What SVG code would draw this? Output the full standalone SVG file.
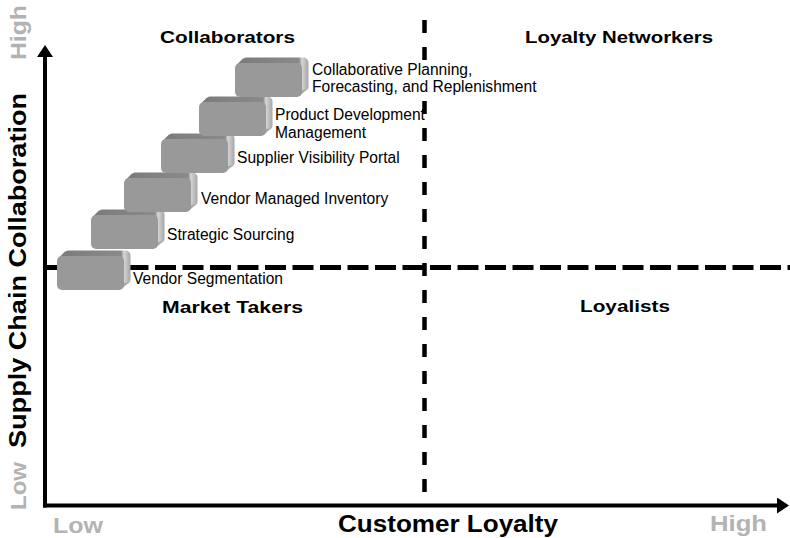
<svg xmlns="http://www.w3.org/2000/svg" width="790" height="538" viewBox="0 0 790 538">
<style>
  .lbl{font-family:"Liberation Sans",Arial,sans-serif;font-size:15.6px;fill:#000}
  .ttl{font-family:"Liberation Sans",Arial,sans-serif;font-weight:bold;font-size:16.3px;fill:#000}
  .ax{font-family:"Liberation Sans",Arial,sans-serif;font-weight:bold;font-size:23px;fill:#000}
  .gry{font-family:"Liberation Sans",Arial,sans-serif;font-weight:bold;font-size:22px;fill:#b3b3b3}
  .axis{stroke:#000;stroke-width:4;fill:none}
  .div-h{stroke:#000;stroke-width:5;stroke-dasharray:21 6.5;fill:none}
  .div-v{stroke:#000;stroke-width:4.5;stroke-dasharray:13 14;fill:none}
</style>
<defs>
  <linearGradient id="backG" x1="0" y1="0" x2="1" y2="0">
    <stop offset="0" stop-color="#7c7c7c"/>
    <stop offset="0.86" stop-color="#8a8a8a"/>
    <stop offset="0.9" stop-color="#d6d6d6"/>
    <stop offset="1" stop-color="#a6a6a6"/>
  </linearGradient>
  <g id="blk">
    <rect x="6.5" y="0.5" width="67" height="34" rx="5" fill="url(#backG)"/>
    <polygon points="2,7.5 8,1.5 12,6" fill="#7c7c7c"/>
    <polygon points="65,38.5 72,32.5 66,33" fill="#a8a8a8"/>
    <rect x="0" y="6" width="67" height="34" rx="5" fill="#999999"/>
  </g>
  <marker id="arr" viewBox="0 0 12 16" refX="0" refY="8" markerWidth="12" markerHeight="16" markerUnits="userSpaceOnUse" orient="auto">
    <polygon points="0,0 12,8 0,16" fill="#000"/>
  </marker>
</defs>

<g id="connectors">
  <line class="div-h" x1="45" y1="267.5" x2="790" y2="267.5"/>
  <line class="div-v" x1="424.5" y1="20" x2="424.5" y2="506"/>
  <line id="y-axis" class="axis" x1="45" y1="507.5" x2="45" y2="57" marker-end="url(#arr)"/>
  <line id="x-axis" class="axis" x1="43" y1="505.5" x2="777" y2="505.5" marker-end="url(#arr)"/>
</g>

<g id="quadrants">
  <text id="q-collaborators" class="ttl" x="160" y="43" textLength="135" lengthAdjust="spacingAndGlyphs">Collaborators</text>
  <text id="q-loyalty-networkers" class="ttl" x="525" y="43" textLength="188" lengthAdjust="spacingAndGlyphs">Loyalty Networkers</text>
  <text id="q-market-takers" class="ttl" x="162" y="313" textLength="141" lengthAdjust="spacingAndGlyphs">Market Takers</text>
  <text id="q-loyalists" class="ttl" x="580" y="312" textLength="90" lengthAdjust="spacingAndGlyphs">Loyalists</text>
</g>

<g id="axis-labels">
  <text class="ax" transform="translate(25.5,270.5) rotate(-90)" text-anchor="middle" textLength="355" lengthAdjust="spacingAndGlyphs">Supply Chain Collaboration</text>
  <text class="ax" x="448" y="532" text-anchor="middle" textLength="220" lengthAdjust="spacingAndGlyphs">Customer Loyalty</text>
  <text class="gry" transform="translate(25.5,32.5) rotate(-90)" text-anchor="middle" textLength="55" lengthAdjust="spacingAndGlyphs">High</text>
  <text class="gry" transform="translate(25.5,486) rotate(-90)" text-anchor="middle" textLength="48" lengthAdjust="spacingAndGlyphs">Low</text>
  <text class="gry" x="78" y="533" text-anchor="middle" textLength="50" lengthAdjust="spacingAndGlyphs">Low</text>
  <text class="gry" x="738.5" y="531" text-anchor="middle" textLength="57" lengthAdjust="spacingAndGlyphs">High</text>
</g>

<g id="step-vendor-segmentation">
  <use href="#blk" x="57" y="250"/>
  <text class="lbl" x="133" y="284">Vendor Segmentation</text>
</g>
<g id="step-strategic-sourcing">
  <use href="#blk" x="91" y="209"/>
  <text class="lbl" x="167" y="240">Strategic Sourcing</text>
</g>
<g id="step-vendor-managed-inventory">
  <use href="#blk" x="124" y="172"/>
  <text class="lbl" x="201" y="204">Vendor Managed Inventory</text>
</g>
<g id="step-supplier-visibility-portal">
  <use href="#blk" x="161" y="133"/>
  <text class="lbl" x="237" y="163">Supplier Visibility Portal</text>
</g>
<g id="step-product-development">
  <use href="#blk" x="199" y="96"/>
  <text class="lbl" x="275" y="120">Product Development</text>
  <text class="lbl" x="275" y="137.5">Management</text>
</g>
<g id="step-cpfr">
  <use href="#blk" x="235" y="57"/>
  <rect x="309" y="60" width="228" height="38" fill="#fff"/>
  <text class="lbl" x="312" y="74.5">Collaborative Planning,</text>
  <text class="lbl" x="312" y="92">Forecasting, and Replenishment</text>
</g>
</svg>
